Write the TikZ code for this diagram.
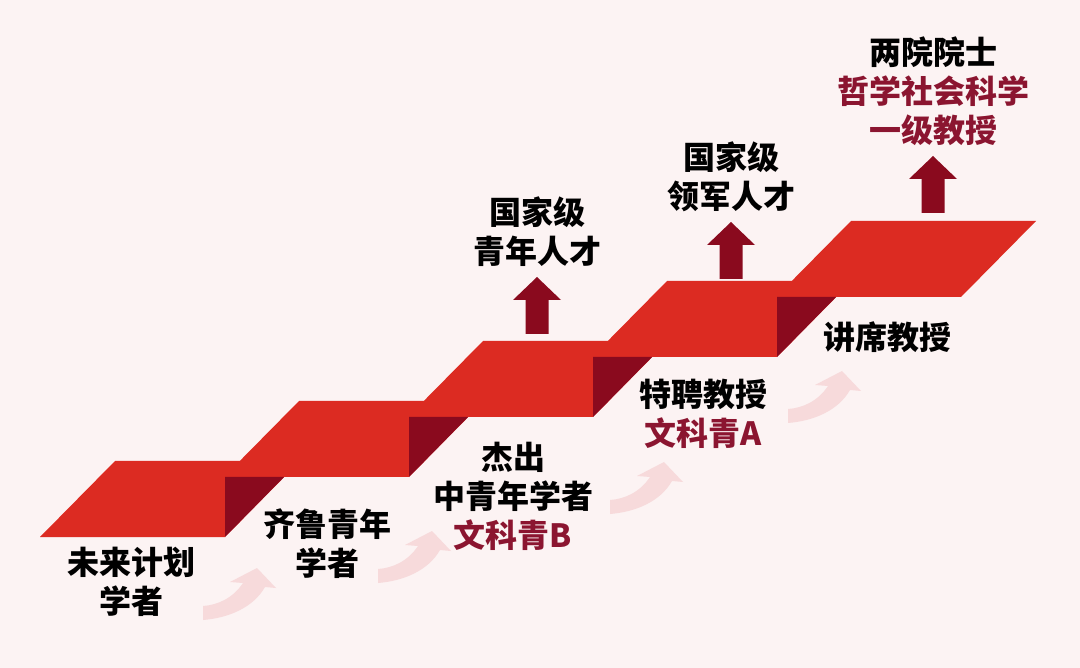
\documentclass[tikz,border=0pt]{standalone}
\usepackage{fontspec}
\newfontfamily\cjk{Noto Sans CJK SC}
\usepackage{tikz}
\usetikzlibrary{positioning}

\definecolor{bgpink}{HTML}{FCF3F3}
\definecolor{ribred}{HTML}{DC2B22}
\definecolor{folddark}{HTML}{8A0A1E}
\definecolor{txtred}{HTML}{8B1530}
\definecolor{paleflow}{HTML}{F7DADB}

\tikzset{lbl/.style={font=\cjk\bfseries\fontsize{32}{39}\selectfont,align=center,inner sep=0pt}}

\begin{document}
\begin{tikzpicture}[x=1pt,y=-1pt]
  \fill[bgpink] (0,0) rectangle (1080,668);
  \useasboundingbox (0,0) rectangle (1080,668);
  % the stairs
  \foreach \i in {0,...,4}{
    \pgfmathsetmacro\xl{40+184*\i}
    \pgfmathsetmacro\yb{537-60*\i}
    \fill[ribred] (\xl,\yb) -- ++(185,0) -- ++(75,-76) -- ++(-185,0) -- cycle;
  }
  \foreach \i in {0,...,3}{
    \pgfmathsetmacro\xr{225+184*\i}
    \pgfmathsetmacro\yb{537-60*\i}
    \fill[folddark] (\xr,\yb) -- ++(59,-60) -- ++(-59,0) -- cycle;
  }
  % up arrows
  \foreach \x/\y/\n in {537/334/1, 731/279/2, 933/213/3}{
    \fill[folddark] (\x-11.5,\y) -- (\x+11.5,\y) -- (\x+11.5,\y-34) -- (\x+24,\y-34)
      -- (\x,\y-57) -- (\x-24,\y-34) -- (\x-11.5,\y-34) -- cycle;
    \coordinate (tip\n) at (\x,\y-57);
  }
  % curved arrows
  \foreach \x/\y in {203/620, 378/583, 610/514, 788/423}
    \fill[paleflow,shift={(\x,\y)}] (0,0) .. controls (25,-2) and (50,-12) .. (62,-33)
      -- (73,-32) -- (54,-52) -- (27,-38) -- (40,-37) .. controls (30,-22) and (15,-15) .. (0,-14) -- cycle;

  \node (weilai) [lbl] at (131,582) {未来计划\\学者};
  \node (qilu) [lbl] at (327,544) {齐鲁青年\\学者};
  \node (jiechu) [lbl] at (513,496) {杰出\\中青年学者\\\textcolor{txtred}{文科青B}};
  \node (tepin) [lbl] at (703,414) {特聘教授\\\textcolor{txtred}{文科青A}};
  \node (jiangxi) [lbl] at (887,337) {讲席教授};

  \node (qingnian) [lbl,above=10pt of tip1] {国家级\\青年人才};
  \node (lingjun) [lbl,above=10pt of tip2] {国家级\\领军人才};
  \node (yuanshi) [lbl,above=10pt of tip3] {两院院士\\\textcolor{txtred}{哲学社会科学}\\\textcolor{txtred}{一级教授}};
\end{tikzpicture}
\end{document}
